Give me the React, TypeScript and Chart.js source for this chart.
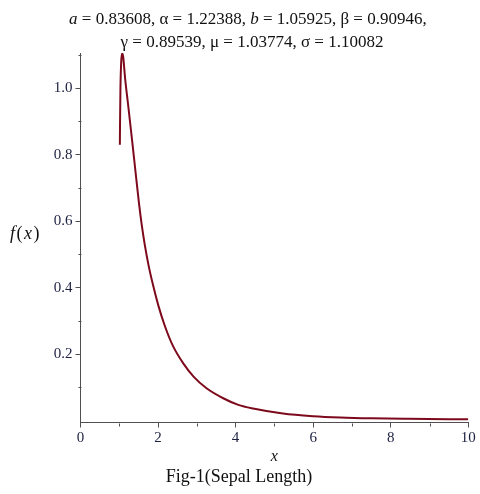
import React, { useEffect, useRef } from "react";
import { Chart, registerables } from "chart.js";

Chart.register(...registerables);

// ---- data ----
const X_VALUES = [
  1.015, 1.02, 1.03, 1.05, 1.075, 1.1, 1.15, 1.23, 1.3, 1.38, 1.45, 1.51, 1.58,
  1.66, 1.75, 1.88, 2.01, 2.18, 2.39, 2.65, 2.91, 3.25, 3.68, 4.07, 4.45, 5.22,
  6.0, 6.7, 7.5, 8.45, 10,
];
const F_VALUES = [
  0.83, 0.9, 1.0, 1.08, 1.105, 1.095, 1.03, 0.948, 0.875, 0.79, 0.715, 0.652,
  0.588, 0.527, 0.47, 0.403, 0.345, 0.283, 0.223, 0.172, 0.133, 0.097, 0.067,
  0.047, 0.036, 0.021, 0.013, 0.009, 0.0065, 0.005, 0.0035,
];
const X_TICKS = [0, 2, 4, 6, 8, 10];
const X_MINOR_TICKS = [1, 3, 5, 7, 9];
const Y_TICKS = [0.2, 0.4, 0.6, 0.8, 1.0];
const Y_MINOR_TICKS = [0.1, 0.3, 0.5, 0.7, 0.9, 1.1];
const PARAM_NAMES = ["a", "α", "b", "β", "γ", "μ", "σ"];
const PARAM_VALUES = ["0.83608", "1.22388", "1.05925", "0.90946", "0.89539", "1.03774", "1.10082"];
const ITALIC_NAMES = ["a", "b"];
const X_LABEL = "x";
const Y_LABEL = ["f", "(", "x", ")"];
const CAPTION = "Fig-1(Sepal Length)";

const SERIF = "'Liberation Serif', 'Times New Roman', serif";
const CURVE_COLOR = "#7d0a1c";
const AXIS_COLOR = "#505050";
const TICK_TEXT = "#1c2040";

type Seg = [string, boolean];

function paramSegs(from: number, to: number, trailingComma: boolean): Seg[] {
  const segs: Seg[] = [];
  for (let i = from; i < to; i++) {
    const n = PARAM_NAMES[i];
    segs.push([n, ITALIC_NAMES.includes(n)]);
    const sep = i < to - 1 || trailingComma ? ", " : "";
    segs.push([" = " + PARAM_VALUES[i] + sep, false]);
  }
  return segs;
}

function drawRich(ctx: CanvasRenderingContext2D, segs: Seg[], cx: number, y: number, size: number, align: "center" | "left" = "center", gap = 0) {
  let total = 0;
  const widths = segs.map(([t, it]) => {
    ctx.font = `${it ? "italic " : ""}${size}px ${SERIF}`;
    const w = ctx.measureText(t).width + gap;
    total += w;
    return w;
  });
  let x = align === "center" ? cx - total / 2 : cx;
  segs.forEach(([t, it], i) => {
    ctx.font = `${it ? "italic " : ""}${size}px ${SERIF}`;
    ctx.fillText(t, x, y);
    x += widths[i];
  });
}

const textPlugin = {
  id: "textPlugin",
  afterDraw(chart: any) {
    const ctx: CanvasRenderingContext2D = chart.ctx;
    const { x, y } = chart.scales;
    ctx.save();
    // minor ticks
    ctx.strokeStyle = AXIS_COLOR;
    ctx.lineWidth = 1;
    ctx.beginPath();
    const axisY = Math.round(chart.chartArea.bottom) + 0.5;
    X_MINOR_TICKS.forEach((v) => {
      const px = Math.round(x.getPixelForValue(v)) + 0.5;
      ctx.moveTo(px, axisY);
      ctx.lineTo(px, axisY + 3);
    });
    const axisX = Math.round(chart.chartArea.left) + 0.5;
    Y_MINOR_TICKS.forEach((v) => {
      const py = Math.round(y.getPixelForValue(v)) + 0.5;
      ctx.moveTo(axisX, py);
      ctx.lineTo(axisX - 3, py);
    });
    ctx.stroke();

    ctx.fillStyle = "#111111";
    ctx.textBaseline = "alphabetic";
    drawRich(ctx, paramSegs(0, 4, true), 250, 24, 17);
    drawRich(ctx, paramSegs(4, 7, false), 252, 47, 17);
    // y label
    drawRich(
      ctx,
      Y_LABEL.map((t) => [t, t !== "(" && t !== ")"] as Seg),
      10,
      239,
      18,
      "left",
      1.5
    );
    // caption
    drawRich(ctx, [[CAPTION, false]], 239, 482, 18);
    ctx.restore();
  },
};

export default function App() {
  const ref = useRef<HTMLCanvasElement>(null);
  useEffect(() => {
    document.body.style.margin = "0";
    const chart = new Chart(ref.current!, {
      type: "scatter",
      data: {
        datasets: [
          {
            data: X_VALUES.map((xv, i) => ({ x: xv, y: F_VALUES[i] })),
            showLine: true,
            borderColor: CURVE_COLOR,
            borderWidth: 2,
            pointRadius: 0,
            cubicInterpolationMode: "monotone",
          },
        ],
      },
      options: {
        animation: false,
        responsive: false,
        layout: { padding: { top: 53, right: 11.7, bottom: 23.5, left: 0 } },
        plugins: { legend: { display: false }, tooltip: { enabled: false } },
        scales: {
          x: {
            type: "linear",
            min: 0,
            max: 10,
            afterFit: (s: any) => {
              s.height = 48;
            },
            afterBuildTicks: (s: any) => {
              s.ticks = X_TICKS.map((v) => ({ value: v }));
            },
            border: { color: AXIS_COLOR, width: 1 },
            grid: { drawOnChartArea: false, drawTicks: true, tickLength: 5, color: AXIS_COLOR },
            ticks: {
              color: TICK_TEXT,
              padding: 2,
              font: { family: SERIF, size: 15 },
              callback: (v: any) => String(v),
              maxRotation: 0,
            },
            title: {
              display: true,
              text: X_LABEL,
              color: "#111111",
              font: { family: SERIF, size: 16, style: "italic" },
              padding: { top: 0, bottom: 4 },
            },
          },
          y: {
            type: "linear",
            min: -0.006,
            max: 1.106,
            afterFit: (s: any) => {
              s.width = 80.5;
            },
            afterBuildTicks: (s: any) => {
              s.ticks = Y_TICKS.map((v) => ({ value: v }));
            },
            border: { color: AXIS_COLOR, width: 1 },
            grid: { drawOnChartArea: false, drawTicks: true, tickLength: 5, color: AXIS_COLOR },
            ticks: {
              color: TICK_TEXT,
              padding: 3,
              font: { family: SERIF, size: 15 },
              callback: (v: any) => Number(v).toFixed(1),
            },
          },
        },
      },
      plugins: [textPlugin],
    });
    return () => chart.destroy();
  }, []);
  return (
    <div style={{ width: 480, height: 494 }}>
      <canvas ref={ref} width={480} height={494} style={{ display: "block" }} />
    </div>
  );
}
